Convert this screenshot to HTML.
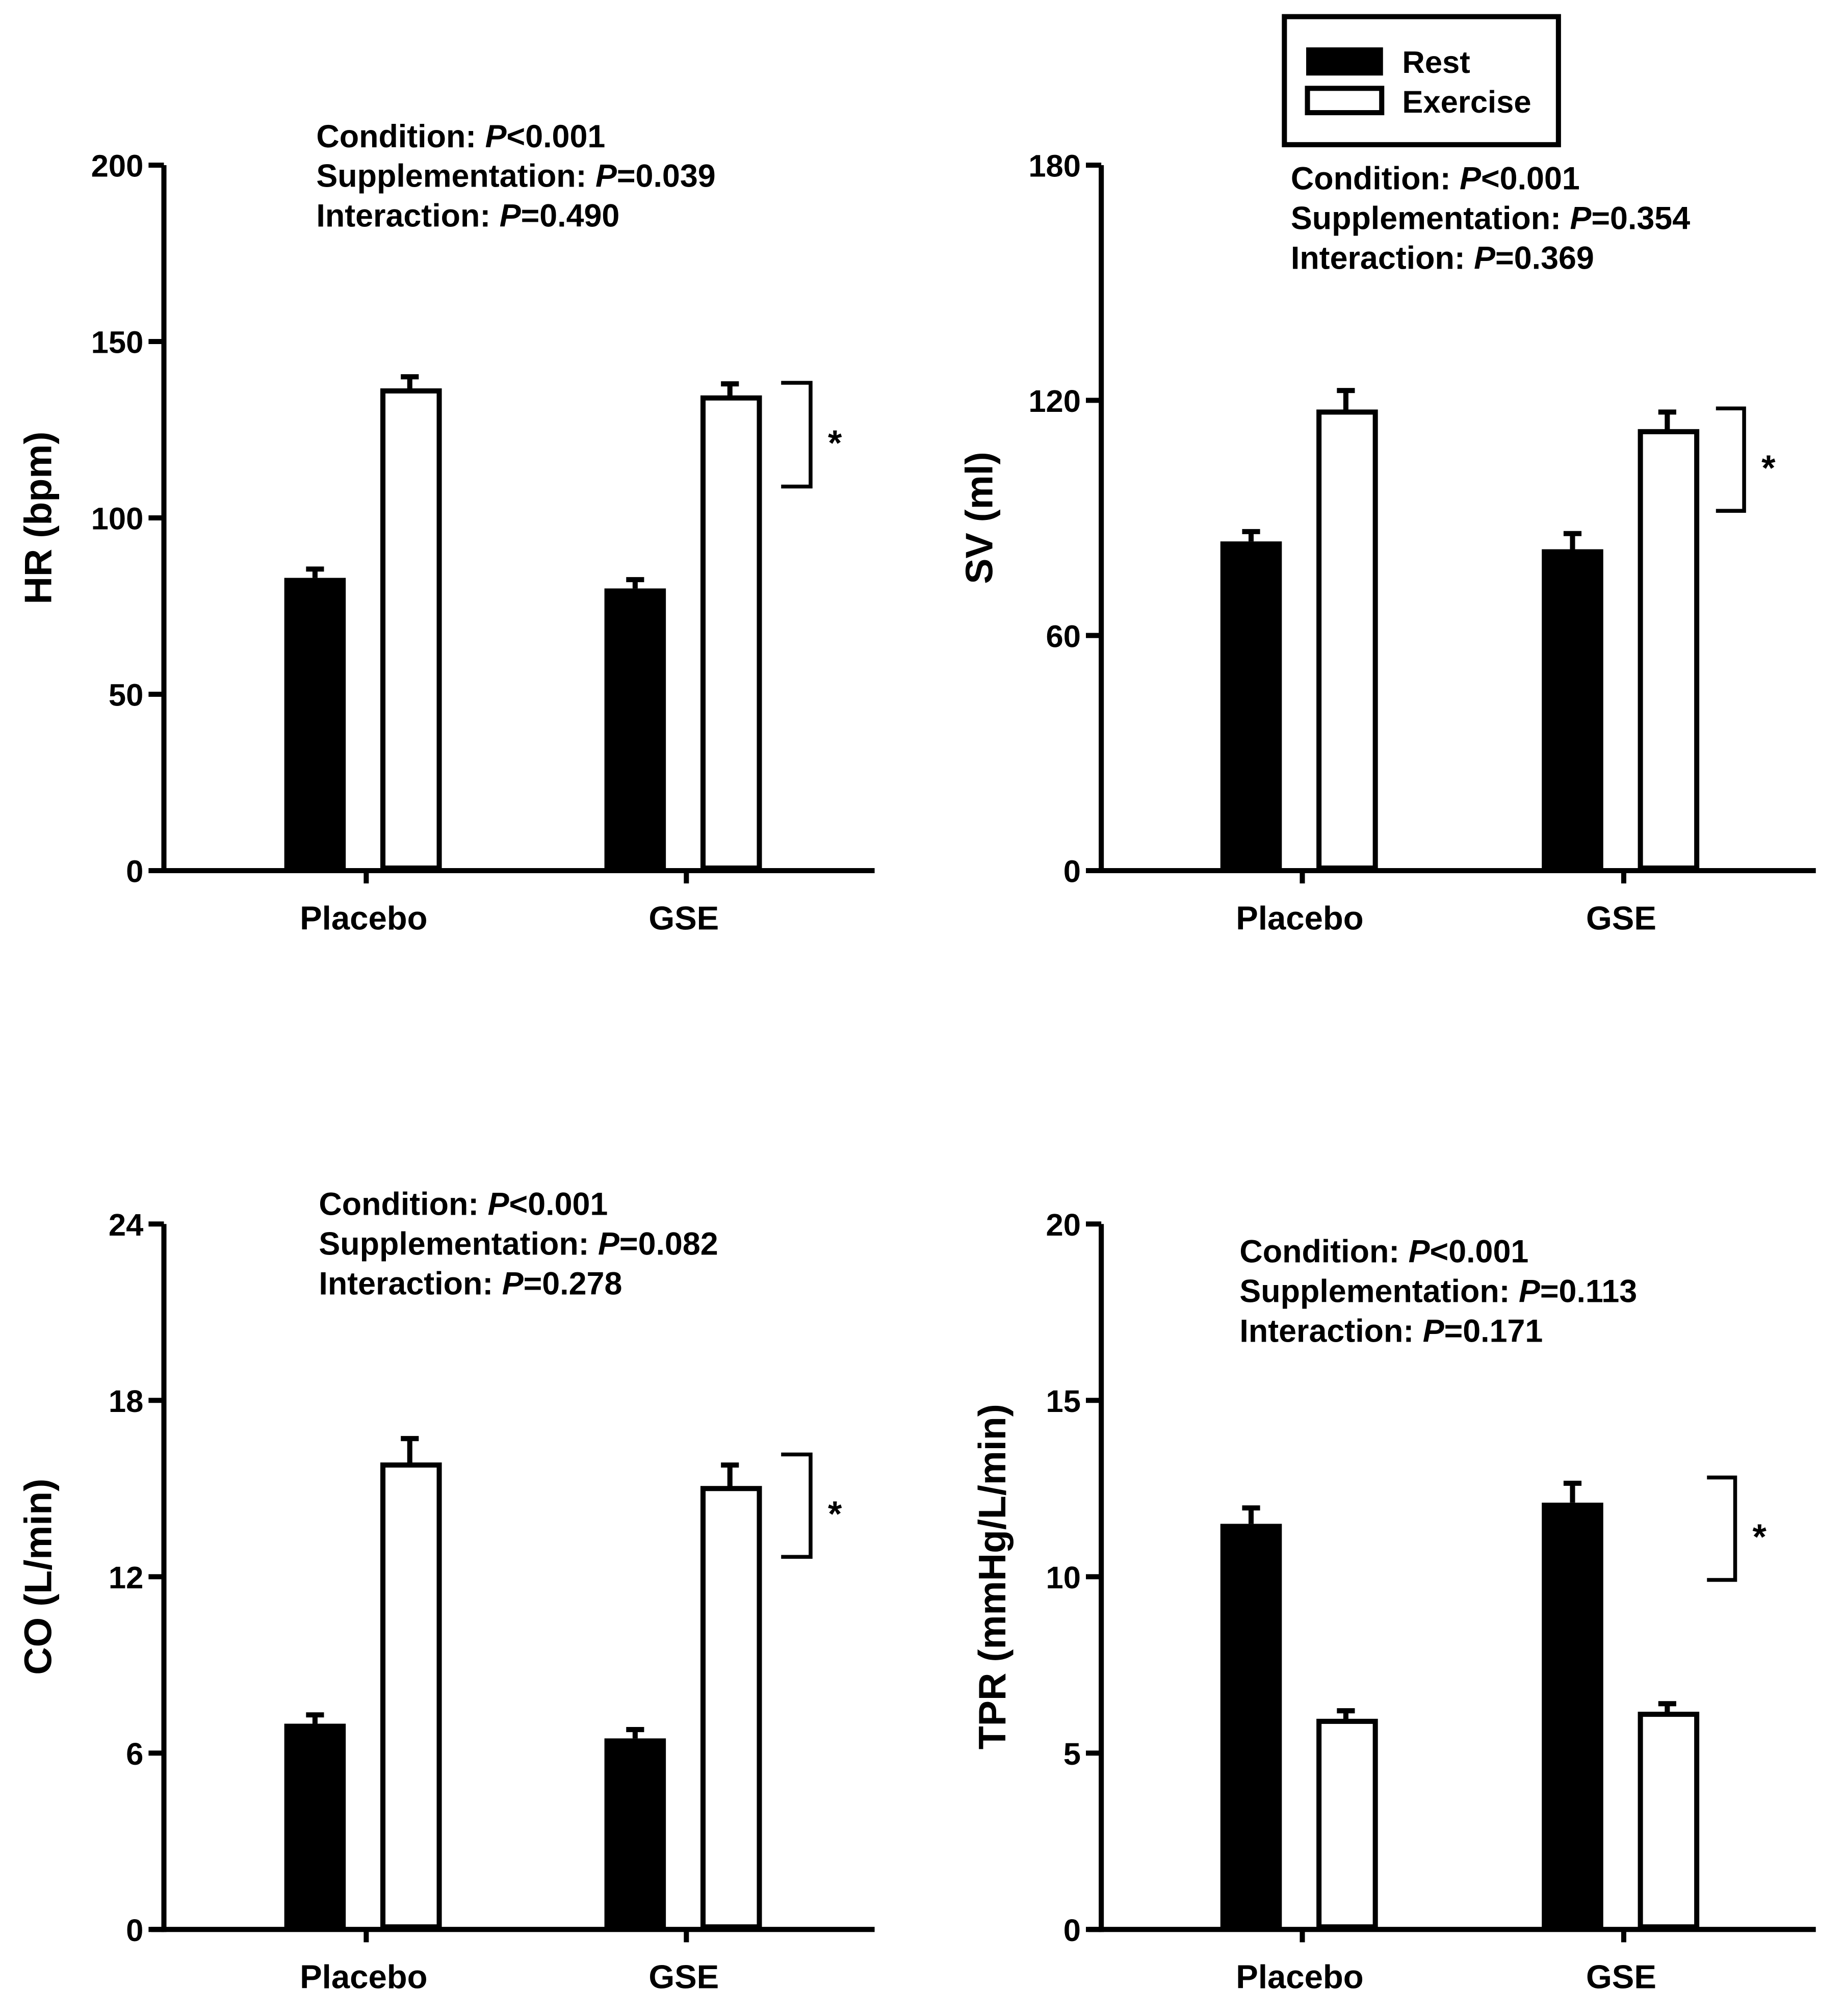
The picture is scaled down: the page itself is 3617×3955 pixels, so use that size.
<!DOCTYPE html>
<html><head><meta charset="utf-8"><style>
html,body{margin:0;padding:0;background:#fff}
svg{display:block}
text{font-family:"Liberation Sans",Arial,sans-serif;font-weight:bold;fill:#000}
</style></head><body>
<svg id="fig" width="3617" height="3955" viewBox="0 0 1440 1574.6" preserveAspectRatio="none" xmlns="http://www.w3.org/2000/svg">
<g>
<rect x="1003" y="13" width="214" height="100" fill="#fff" stroke="#000" stroke-width="4"/>
<rect x="1020" y="37" width="60" height="22" fill="#000"/>
<text x="1095" y="57" font-size="24.5">Rest</text>
<rect x="1021" y="69" width="58" height="19" fill="#fff" stroke="#000" stroke-width="4"/>
<text x="1095" y="88" font-size="24.5">Exercise</text>
</g>
</svg>
<script>
const categories = ["Placebo", "GSE"];
const hrRest = [83, 80], hrRestErr = [2.5, 2.5], hrEx = [136, 134], hrExErr = [4, 4];
const hrTicks = [0, 50, 100, 150, 200];
const svRest = [84, 82], svRestErr = [2.5, 4], svEx = [117, 112], svExErr = [5.5, 5];
const svTicks = [0, 60, 120, 180];
const coRest = [7.0, 6.5], coRestErr = [0.3, 0.3], coEx = [15.8, 15.0], coExErr = [0.9, 0.8];
const coTicks = [0, 6, 12, 18, 24];
const tprRest = [11.5, 12.1], tprRestErr = [0.45, 0.55], tprEx = [5.9, 6.1], tprExErr = [0.3, 0.3];
const tprTicks = [0, 5, 10, 15, 20];

const NS = "http://www.w3.org/2000/svg";
const svg = document.getElementById("fig");
function mk(tag, attrs, parent) {
  const e = document.createElementNS(NS, tag);
  for (const k in attrs) e.setAttribute(k, attrs[k]);
  (parent || svg).appendChild(e);
  return e;
}
const panels = [
  {name:"hr", ox:128, oy:680, top:129, right:683, ticks:hrTicks, rest:hrRest, restErr:hrRestErr, ex:hrEx, exErr:hrExErr, title:"HR (bpm)", tx:30, cx:[286,536],
   stats:["Condition: |<0.001","Supplementation: |=0.039","Interaction: |=0.490"], sx:247, sy:115, br:[610,633,299,380]},
  {name:"sv", ox:860, oy:680, top:129, right:1418, ticks:svTicks, rest:svRest, restErr:svRestErr, ex:svEx, exErr:svExErr, title:"SV (ml)", tx:765, cx:[1017,1268],
   stats:["Condition: |<0.001","Supplementation: |=0.354","Interaction: |=0.369"], sx:1008, sy:148, br:[1340,1362,319,399]},
  {name:"co", ox:128, oy:1507, top:956, right:683, ticks:coTicks, rest:coRest, restErr:coRestErr, ex:coEx, exErr:coExErr, title:"CO (L/min)", tx:30, cx:[286,536],
   stats:["Condition: |<0.001","Supplementation: |=0.082","Interaction: |=0.278"], sx:249, sy:949, br:[610,633,1136,1216]},
  {name:"tpr", ox:860, oy:1507, top:956, right:1418, ticks:tprTicks, rest:tprRest, restErr:tprRestErr, ex:tprEx, exErr:tprExErr, title:"TPR (mmHg/L/min)", tx:775, cx:[1017,1268],
   stats:["Condition: |<0.001","Supplementation: |=0.113","Interaction: |=0.171"], sx:968, sy:986, br:[1333,1355,1154,1234]}
];
panels.forEach(p => {
  const g = mk("g", {});
  
  
  const max = p.ticks[p.ticks.length-1];
  const y = v => p.oy - (v / max) * (p.oy - p.top);
  const ya = mk("line", {x1:p.ox, y1:p.top, x2:p.ox, y2:p.oy+2, stroke:"#000", "stroke-width":4}, g);
  
  
  const xa = mk("line", {x1:p.ox-10, y1:p.oy, x2:p.right, y2:p.oy, stroke:"#000", "stroke-width":4}, g);
  
  
  p.ticks.forEach(t => {
    mk("line", {x1:p.ox-12, y1:y(t), x2:p.ox, y2:y(t), stroke:"#000", "stroke-width":4}, g);
    const tl = mk("text", {x:p.ox-16, y:y(t)+9, "font-size":24.5, "text-anchor":"end"}, g);
    tl.textContent = t;
    
    
  });
  const yt = mk("text", {x:0, y:0, "font-size":30, "text-anchor":"middle", transform:`translate(${p.tx+10},${(p.top+p.oy)/2}) rotate(-90)`}, g);
  yt.textContent = p.title;
  
  
  categories.forEach((c, i) => {
    const cx = p.cx[i];
    mk("line", {x1:cx, y1:p.oy, x2:cx, y2:p.oy+10, stroke:"#000", "stroke-width":4}, g);
    const cl = mk("text", {x:cx-2, y:p.oy+46, "font-size":26, "text-anchor":"middle"}, g);
    cl.textContent = c;
    
    
    const rx = cx - 64, ex = cx + 11;
    const rv = p.rest[i], re = p.restErr[i];
    mk("line", {x1:rx+24, y1:y(rv), x2:rx+24, y2:y(rv+re), stroke:"#000", "stroke-width":4}, g);
    mk("line", {x1:rx+17, y1:y(rv+re), x2:rx+31, y2:y(rv+re), stroke:"#000", "stroke-width":4}, g);
    const rb = mk("rect", {x:rx, y:y(rv), width:48, height:p.oy-y(rv), fill:"#000"}, g);
    
    
    const ev = p.ex[i], ee = p.exErr[i];
    mk("line", {x1:ex+23, y1:y(ev), x2:ex+23, y2:y(ev+ee), stroke:"#000", "stroke-width":4}, g);
    mk("line", {x1:ex+16, y1:y(ev+ee), x2:ex+30, y2:y(ev+ee), stroke:"#000", "stroke-width":4}, g);
    const eb = mk("rect", {x:ex+2, y:y(ev), width:44, height:p.oy-y(ev)-2, fill:"#fff", stroke:"#000", "stroke-width":4}, g);
    
    
  });
  const b = p.br;
  const bp = mk("polyline", {points:`${b[0]},${b[2]} ${b[1]},${b[2]} ${b[1]},${b[3]} ${b[0]},${b[3]}`, fill:"none", stroke:"#000", "stroke-width":3}, g);
  
  
  const st = mk("text", {x:b[1]+19, y:(b[2]+b[3])/2+16, "font-size":28, "text-anchor":"middle"}, g);
  st.textContent = "*";
  
  
  p.stats.forEach((s, k) => {
    const parts = s.split("|");
    const t = mk("text", {x:p.sx, y:p.sy + k*31, "font-size":25}, g);
    
    
    const a = mk("tspan", {}, t); a.textContent = parts[0];
    const pi = mk("tspan", {"font-style":"italic"}, t); pi.textContent = "P";
    const r = mk("tspan", {}, t); r.textContent = parts[1];
  });
});
</script>
</body></html>
